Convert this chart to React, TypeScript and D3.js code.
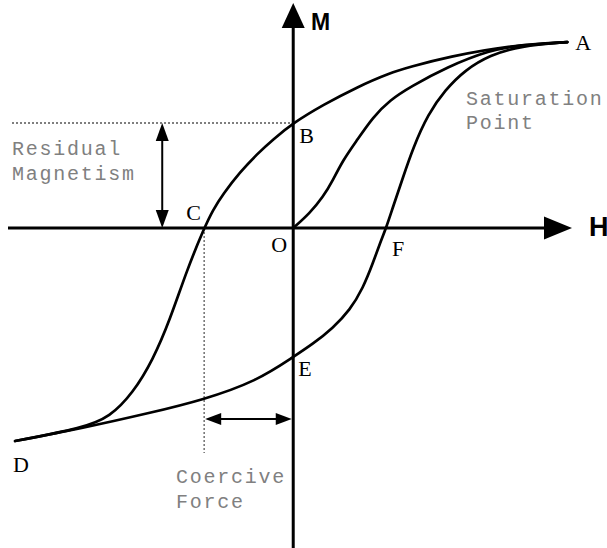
import * as d3 from "d3";
import React from "react";

const width = 607;
const height = 548;

// descending branch A -> B -> C -> D (H, M in arbitrary units)
const upperH = [10, 8.02, 5.61, 4.26, 3.53, 2.33, 1.09, 0, -0.74, -1.32, -1.94, -2.56, -2.93, -3.25, -3.88, -4.5, -5.12, -5.85, -6.69, -7.67, -10.15];
const upperM = [10, 9.84, 9.2, 8.66, 8.34, 7.58, 6.62, 5.65, 4.76, 3.98, 3.01, 1.83, 0.97, 0, -2.26, -4.94, -7.09, -8.87, -10.16, -10.75, -11.45];

// ascending branch D -> E -> F -> A
const lowerH = [-10.15, -7.67, -5.23, -3.29, -1.32, 0, 0.72, 1.45, 2.07, 2.55, 2.91, 3.17, 3.39, 3.64, 4.01, 4.37, 4.92, 5.54, 6.27, 7.18, 8.28, 10];
const lowerM = [-11.45, -10.75, -9.94, -9.24, -8.22, -6.93, -6.23, -5.37, -4.41, -3.22, -1.88, -0.8, 0, 1.13, 2.74, 4.3, 6.13, 7.42, 8.5, 9.3, 9.79, 10];

// initial magnetisation O -> A
const initialH = [0, 0.61, 1.09, 1.45, 1.82, 2.33, 2.91, 3.53, 4.26, 5.61, 7.18, 8.28, 10];
const initialM = [0, 0.81, 1.67, 2.58, 3.66, 4.73, 5.97, 6.88, 7.58, 8.66, 9.57, 9.84, 10];

// key points
const pointNames = ["A", "B", "C", "D", "E", "F", "O"];
const pointH = [10, 0, -3.25, -10.15, 0, 3.39, 0];
const pointM = [10, 5.65, 0, -11.45, -6.93, 0, 0];

const residualText = ["Residual", "Magnetism"];
const saturationText = ["Saturation", "Point"];
const coerciveText = ["Coercive", "Force"];

// where the two measuring arrows sit
const residualArrowH = -4.78;
const coerciveArrowM = -10.27;

const labelOffset: Record<string, [number, number]> = {
	A: [8, 8],
	B: [6, 20],
	C: [-18, -8],
	D: [-2, 31],
	E: [5, 19],
	F: [6, 28],
	O: [-22, 24],
};

const x = d3.scaleLinear().domain([-10.7, 11.45]).range([0, width]);
const y = d3.scaleLinear().domain([12.26, -17.2]).range([0, height]);

const line = d3
	.line<[number, number]>()
	.x((d) => x(d[0]))
	.y((d) => y(d[1]))
	.curve(d3.curveBasis);

const zip = (h: number[], m: number[]) =>
	h.map((v, i) => [v, m[i]] as [number, number]).sort((a, b) => a[0] - b[0]);

const monoStyle = {
	fontFamily: "'Liberation Mono', 'DejaVu Sans Mono', monospace",
	fontSize: 20,
	letterSpacing: 1.75,
	fill: "#808080",
};

// small filled arrowhead pointing along (dx, dy)
const head = (tx: number, ty: number, dx: number, dy: number, len: number, half: number) => {
	const bx = tx - dx * len;
	const by = ty - dy * len;
	return `M${tx},${ty}L${bx - dy * half},${by + dx * half}L${bx + dy * half},${by - dx * half}Z`;
};

export default function App() {
	const x0 = x(0);
	const y0 = y(0);
	const hLeft = 8;
	const hTip = 572;
	const mTip = 3;

	const bY = y(pointM[1]);
	const cX = x(pointH[2]);
	const rX = x(residualArrowH);
	const cfY = y(coerciveArrowM);

	return (
		<svg
			width={width}
			height={height}
			style={{ position: "absolute", left: 0, top: 0, background: "#fff" }}
		>
			{/* dotted guides */}
			<line x1={12} x2={x0} y1={bY} y2={bY} stroke="#555" strokeWidth={1.4} strokeDasharray="2,2" />
			<line x1={cX} x2={cX} y1={y0} y2={453} stroke="#666" strokeWidth={1.4} strokeDasharray="2,2" />

			{/* axes */}
			<line x1={hLeft} x2={hTip - 20} y1={y0} y2={y0} stroke="#000" strokeWidth={3} />
			<path d={head(hTip, y0, 1, 0, 28, 11.5)} fill="#000" />
			<line x1={x0} x2={x0} y1={height} y2={mTip + 20} stroke="#000" strokeWidth={3} />
			<path d={head(x0, mTip, 0, -1, 25, 11.5)} fill="#000" />
			<text x={311} y={30} fontFamily="'Liberation Sans', Arial, sans-serif" fontWeight="bold" fontSize={23}>
				M
			</text>
			<text x={589} y={236} fontFamily="'Liberation Sans', Arial, sans-serif" fontWeight="bold" fontSize={27}>
				H
			</text>

			{/* hysteresis curves */}
			{[zip(upperH, upperM), zip(lowerH, lowerM), zip(initialH, initialM)].map((pts, i) => (
				<path key={i} d={line(pts) || ""} fill="none" stroke="#000" strokeWidth={2.7} strokeLinecap="round" />
			))}

			{/* residual magnetism arrow */}
			<line x1={rX} x2={rX} y1={bY + 10} y2={y0 - 10} stroke="#000" strokeWidth={2} />
			<path d={head(rX, bY, 0, -1, 18, 6.5)} fill="#000" />
			<path d={head(rX, y0, 0, 1, 18, 6.5)} fill="#000" />

			{/* coercive force arrow */}
			<line x1={cX + 10} x2={x0 - 10} y1={cfY} y2={cfY} stroke="#000" strokeWidth={2} />
			<path d={head(cX + 1, cfY, -1, 0, 16, 6)} fill="#000" />
			<path d={head(x0 - 1.5, cfY, 1, 0, 16, 6)} fill="#000" />

			{/* point labels */}
			{pointNames.map((n, i) => (
				<text
					key={n}
					x={x(pointH[i]) + labelOffset[n][0]}
					y={y(pointM[i]) + labelOffset[n][1]}
					fontFamily="'Liberation Serif', 'Times New Roman', serif"
					fontSize={22}
					fill="#000"
				>
					{n}
				</text>
			))}

			{/* annotations */}
			{residualText.map((t, i) => (
				<text key={t} x={12} y={155 + i * 25} style={monoStyle}>
					{t}
				</text>
			))}
			{saturationText.map((t, i) => (
				<text key={t} x={466} y={105 + i * 24} style={monoStyle}>
					{t}
				</text>
			))}
			{coerciveText.map((t, i) => (
				<text key={t} x={176} y={483 + i * 25} style={monoStyle}>
					{t}
				</text>
			))}
		</svg>
	);
}
